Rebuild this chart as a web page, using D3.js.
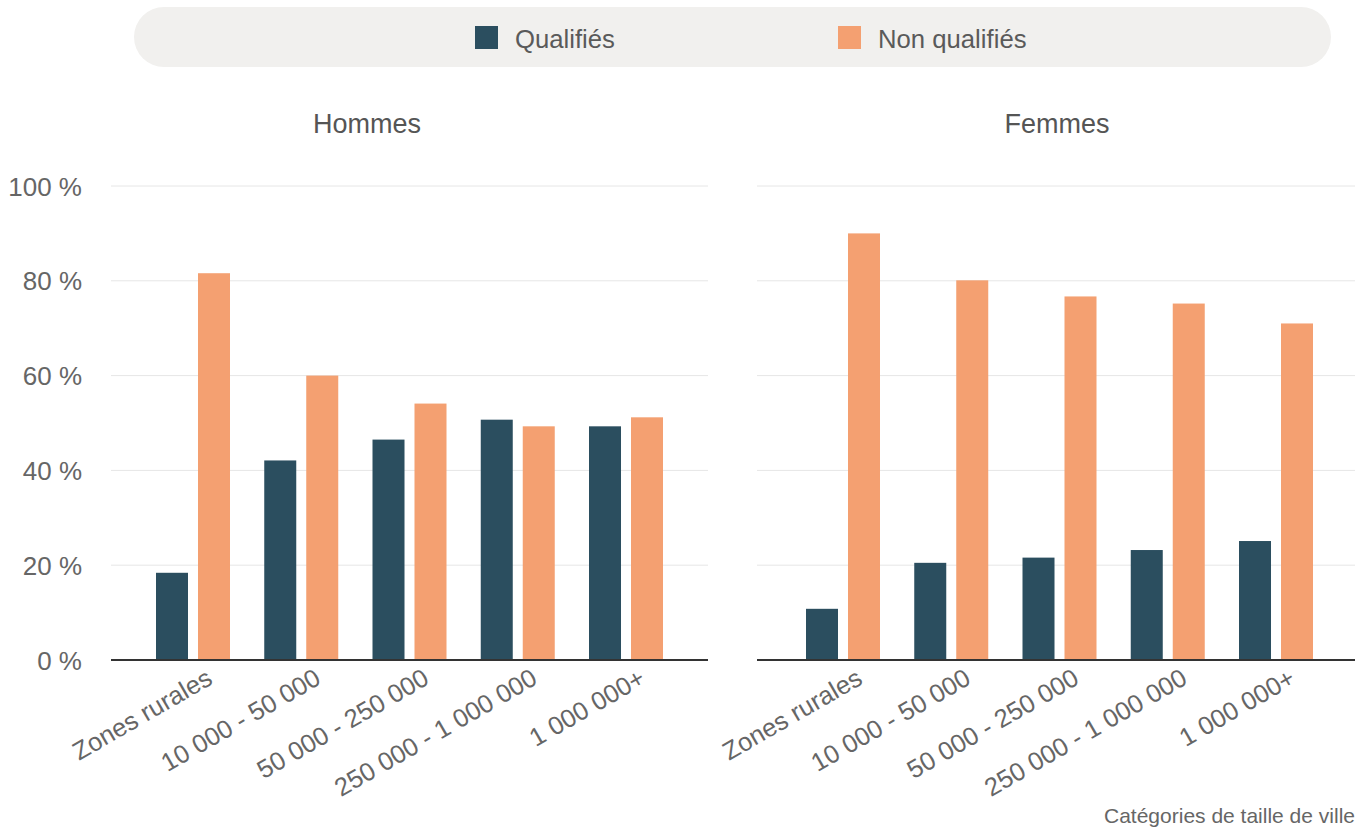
<!DOCTYPE html>
<html>
<head>
<meta charset="utf-8">
<script src="https://cdn.jsdelivr.net/npm/d3@7"></script>
<style>
  html, body { margin: 0; padding: 0; background: #ffffff; }
  svg { display: block; font-family: "Liberation Sans", Arial, sans-serif; }
</style>
</head>
<body>
<svg id="chart" width="1370" height="829"></svg>
<script>
// City size categories
const categories = ["Zones rurales", "10 000 - 50 000", "50 000 - 250 000", "250 000 - 1 000 000", "1 000 000+"];
const seriesNames = ["Qualifiés", "Non qualifiés"];
const seriesColors = ["#2b4e5f", "#f4a071"];

// Share of workers (%) by city size
const hommesQualifies    = [18.4, 42.1, 46.5, 50.7, 49.3];
const hommesNonQualifies = [81.6, 60.0, 54.1, 49.3, 51.2];
const femmesQualifies    = [10.8, 20.5, 21.6, 23.2, 25.1];
const femmesNonQualifies = [90.0, 80.1, 76.7, 75.2, 71.0];

const yTicks = [0, 20, 40, 60, 80, 100];
const panelTitles = ["Hommes", "Femmes"];
const xAxisTitle = "Catégories de taille de ville";

const panels = [
  { title: panelTitles[0], values: [hommesQualifies, hommesNonQualifies],
    axis: [111, 708], bands: [111, 708], titleX: 367 },
  { title: panelTitles[1], values: [femmesQualifies, femmesNonQualifies],
    axis: [757, 1355], bands: [761, 1358], titleX: 1057 }
];

const svg = d3.select("#chart");
const textColor = "#666666";

// Legend pill
const legend = svg.append("g");
legend.append("rect")
  .attr("x", 134).attr("y", 7).attr("width", 1197).attr("height", 60)
  .attr("rx", 30).attr("ry", 30).attr("fill", "#f1f0ee");
const legendX = [475, 838];
seriesNames.forEach((name, i) => {
  legend.append("rect")
    .attr("x", legendX[i]).attr("y", 26).attr("width", 23).attr("height", 23)
    .attr("fill", seriesColors[i]);
  legend.append("text")
    .attr("x", legendX[i] + 40).attr("y", 48)
    .attr("font-size", 25.7).attr("fill", "#5a5a5a")
    .text(name);
});

const y = d3.scaleLinear().domain([0, 100]).range([660, 186]);

panels.forEach((p, pi) => {
  const g = svg.append("g");

  // Gridlines
  g.append("g").selectAll("line")
    .data(yTicks.filter(t => t > 0))
    .join("line")
    .attr("x1", p.axis[0]).attr("x2", p.axis[1])
    .attr("y1", d => y(d)).attr("y2", d => y(d))
    .attr("stroke", "#e6e6e6").attr("stroke-width", 1);

  // Y axis labels (left panel only)
  if (pi === 0) {
    const yAxis = d3.axisLeft(y).tickValues(yTicks)
      .tickFormat(d => d + " %").tickSize(0).tickPadding(0);
    const ya = g.append("g").attr("transform", "translate(82,0)").call(yAxis);
    ya.select(".domain").remove();
    ya.selectAll("text")
      .attr("font-family", "'Liberation Sans', Arial, sans-serif")
      .attr("font-size", 26).attr("fill", textColor).attr("dy", "0.35em");
  }

  const x0 = d3.scaleBand().domain(categories).range(p.bands)
    .paddingInner(0.3164).paddingOuter(0.4157);
  const x1 = d3.scaleBand().domain(seriesNames).range([0, x0.bandwidth()])
    .paddingInner(0.238).paddingOuter(0);

  // Bars
  const groups = g.append("g").selectAll("g")
    .data(categories)
    .join("g")
    .attr("transform", d => `translate(${x0(d)},0)`);
  groups.selectAll("rect")
    .data((d, ci) => seriesNames.map((s, si) => ({ s, si, v: p.values[si][ci] })))
    .join("rect")
    .attr("x", d => x1(d.s))
    .attr("width", x1.bandwidth())
    .attr("y", d => y(d.v))
    .attr("height", d => y(0) - y(d.v))
    .attr("fill", d => seriesColors[d.si]);

  // Baseline
  g.append("line")
    .attr("x1", p.axis[0]).attr("x2", p.axis[1])
    .attr("y1", y(0)).attr("y2", y(0))
    .attr("stroke", "#333333").attr("stroke-width", 2);

  // Category labels
  g.append("g").selectAll("text")
    .data(categories)
    .join("text")
    .attr("transform", d => `translate(${x0(d) + x0.bandwidth() / 2 + 21},683) rotate(-30)`)
    .attr("text-anchor", "end")
    .attr("font-size", 25.5).attr("fill", textColor)
    .text(d => d);

  // Panel title
  g.append("text")
    .attr("x", p.titleX).attr("y", 133)
    .attr("text-anchor", "middle")
    .attr("font-size", 27).attr("fill", "#555555")
    .text(p.title);
});

// X axis title
svg.append("text")
  .attr("x", 1355).attr("y", 823)
  .attr("text-anchor", "end")
  .attr("font-size", 21).attr("fill", textColor)
  .text(xAxisTitle);
</script>
</body>
</html>
